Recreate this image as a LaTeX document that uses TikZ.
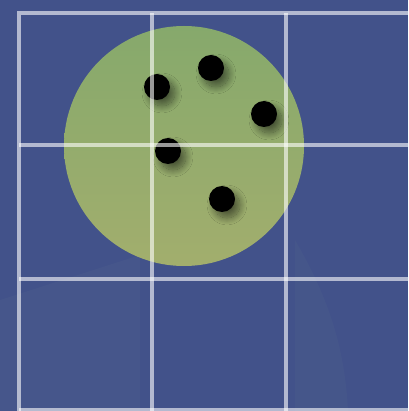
\documentclass[tikz,border=0pt]{standalone}
\usetikzlibrary{shadows.blur}
\definecolor{bg}{HTML}{42528A}
\definecolor{bgl}{HTML}{4A5B8C}
\definecolor{gtop}{HTML}{86A96C}
\definecolor{gbot}{HTML}{A2AE6D}
\tikzset{
  gridline/.style={draw=white, draw opacity=0.6, line width=3.6pt},
  dot/.style={circle, fill=black, minimum size=26pt, inner sep=0pt,
    blur shadow={shadow xshift=5pt, shadow yshift=-6pt, shadow blur radius=7pt, shadow blur steps=16, shadow opacity=50}},
  disc/.style={circle, minimum size=240pt, inner sep=0pt, top color=gtop, bottom color=gbot}
}
\begin{document}
\begin{tikzpicture}[x=1pt,y=-1pt]
\fill[bg] (0,0) rectangle (408,411);
\useasboundingbox (0,0) rectangle (408,411);
% subtle background variations
\fill[bgl, opacity=0.5] (0,300) -- (140,255) -- (140,411) -- (0,411) -- cycle;
\fill[bgl, opacity=0.45] (295,240) .. controls (330,300) and (345,350) .. (348,411) -- (295,411) -- cycle;
\node[disc] (c) at (184,146) {};
\node[dot] (d1) at (157,87) {};
\node[dot] (d2) at (211,68) {};
\node[dot] (d3) at (264,114) {};
\node[dot] (d4) at (168,151) {};
\node[dot] (d5) at (222,199) {};
% grid
\coordinate (tl) at (19,13);
\draw[gridline] (19,411) -- (tl) -- (408,13);
\draw[gridline] (152,13) -- (152,411);
\draw[gridline] (286,13) -- (286,411);
\draw[gridline] (19,145) -- (408,145);
\draw[gridline] (19,279) -- (408,279);
\draw[gridline] (19,410) -- (408,410);
\end{tikzpicture}
\end{document}
